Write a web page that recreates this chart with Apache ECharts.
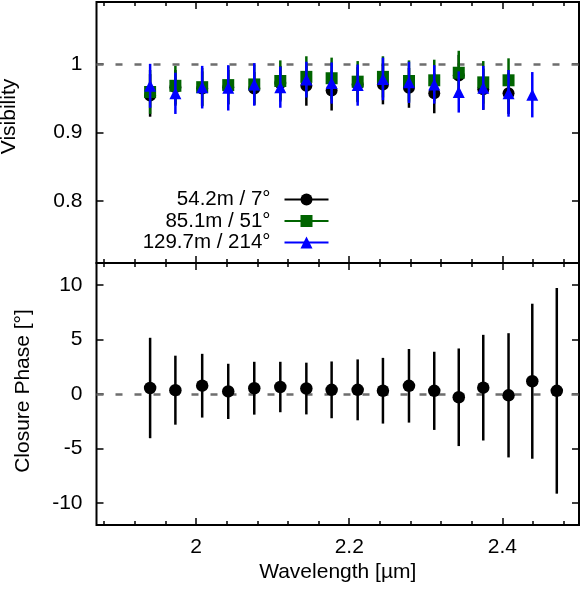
<!DOCTYPE html>
<html>
<head>
<meta charset="utf-8">
<title>Visibility / Closure Phase</title>
<script src="https://cdn.jsdelivr.net/npm/echarts@6.0.0/dist/echarts.min.js"></script>
<style>
html, body { margin: 0; padding: 0; background: #fff; }
#chart { width: 581px; height: 593px; }
</style>
</head>
<body>
<div id="chart"></div>
<script>
// wavelength bins [um]
var wavelength = [1.940, 1.973, 2.008, 2.042, 2.076, 2.110, 2.144, 2.177, 2.211, 2.244, 2.278, 2.311, 2.343, 2.375, 2.408, 2.439, 2.471];

// visibilities per baseline
var baselineNames = ['54.2m / 7°', '85.1m / 51°', '129.7m / 214°'];
var vis1 = [0.954, 0.966, 0.964, 0.966, 0.964, 0.972, 0.968, 0.961, 0.970, 0.970, 0.965, 0.957, 0.983, 0.963, 0.957];
var vis1Err = [0.031, 0.025, 0.025, 0.025, 0.024, 0.025, 0.029, 0.029, 0.025, 0.029, 0.029, 0.029, 0.030, 0.030, 0.030];
var vis2 = [0.959, 0.968, 0.966, 0.969, 0.970, 0.975, 0.981, 0.979, 0.974, 0.981, 0.975, 0.976, 0.987, 0.973, 0.976];
var vis2Err = [0.032, 0.029, 0.028, 0.028, 0.028, 0.030, 0.030, 0.030, 0.030, 0.030, 0.030, 0.030, 0.032, 0.031, 0.032];
var vis3 = [0.968, 0.957, 0.966, 0.965, 0.970, 0.966, 0.977, 0.972, 0.969, 0.978, 0.973, 0.970, 0.959, 0.965, 0.957, 0.955];
var vis3Err = [0.032, 0.030, 0.031, 0.033, 0.031, 0.030, 0.026, 0.030, 0.030, 0.031, 0.030, 0.028, 0.030, 0.032, 0.034, 0.033];

// closure phase [deg]
var cp = [0.55, 0.35, 0.76, 0.24, 0.53, 0.64, 0.50, 0.38, 0.38, 0.30, 0.75, 0.29, -0.30, 0.58, -0.12, 1.17, 0.29];
var cpErr = [4.6, 3.16, 2.92, 2.53, 2.42, 2.31, 2.37, 2.6, 2.79, 3.01, 3.37, 3.58, 4.47, 4.84, 5.69, 7.1, 9.42];

// ticks
var xMajorTicks = [2, 2.2, 2.4];
var xMinorTicks = [1.88, 1.92, 1.96, 2.04, 2.08, 2.12, 2.16, 2.24, 2.28, 2.32, 2.36, 2.44, 2.48];
var visTicks = [0.8, 0.9, 1];
var cpTicks = [-10, -5, 0, 5, 10];

var xMin = 1.87, xMax = 2.5;
var FONT = 'Liberation Sans';
var FS = 21;

var chart = echarts.init(document.getElementById('chart'));
init();

function init() {
    chart.setOption(buildOption());
}

// points as [x, y]
function points(vals) {
    return vals.map(function (v, i) { return [wavelength[i], v]; });
}

// error bars as [x, lo, hi]
function bars(vals, errs) {
    return vals.map(function (v, i) { return [wavelength[i], v - errs[i], v + errs[i]]; });
}

function renderErr(params, api) {
    var p1 = api.coord([api.value(0), api.value(1)]);
    var p2 = api.coord([api.value(0), api.value(2)]);
    return {
        type: 'line',
        shape: { x1: p1[0], y1: p1[1], x2: p2[0], y2: p2[1] },
        style: { stroke: api.visual('color'), lineWidth: 2.5 }
    };
}

function dashedRef(value) {
    return {
        silent: true,
        symbol: ['none', 'none'],
        z: 1,
        label: { show: false },
        lineStyle: { type: [7, 12], color: '#6e6e6e', width: 2.5 },
        data: [{ yAxis: value }]
    };
}

function xAxisCfg(gridIndex, position, ticks, len, showLabel) {
    return {
        type: 'value', gridIndex: gridIndex, position: position, min: xMin, max: xMax,
        axisLine: { show: false, onZero: false },
        axisTick: { show: true, inside: true, length: len, customValues: ticks, lineStyle: { color: '#000', width: 1.5 } },
        axisLabel: { show: showLabel, customValues: xMajorTicks, fontSize: FS, color: '#000', margin: 12, fontFamily: FONT },
        splitLine: { show: false }
    };
}

function yAxisCfg(gridIndex, position, min, max, ticks, showLabel) {
    return {
        type: 'value', gridIndex: gridIndex, position: position, min: min, max: max,
        axisLine: { show: false, onZero: false },
        axisTick: { show: true, inside: true, length: 7, customValues: ticks, lineStyle: { color: '#000', width: 1.5 } },
        axisLabel: { show: showLabel, customValues: ticks, fontSize: FS, color: '#000', margin: 14, fontFamily: FONT },
        splitLine: { show: false }
    };
}

function markerSeries(name, vals, color, symbol, z) {
    return {
        name: name, type: 'line', xAxisIndex: 0, yAxisIndex: 0, z: z,
        data: points(vals), color: color,
        symbol: symbol, symbolSize: 12, showSymbol: true, showAllSymbol: true,
        lineStyle: { width: 0, opacity: 0 },
        itemStyle: { color: color, borderWidth: 0, opacity: 1 },
        silent: true
    };
}

function errSeries(name, vals, errs, color, z, xi, yi) {
    return {
        name: name, type: 'custom', xAxisIndex: xi, yAxisIndex: yi, z: z,
        data: bars(vals, errs), color: color,
        encode: { x: 0, y: [1, 2] },
        renderItem: renderErr, silent: true
    };
}

function buildOption() {
    var s1Err = errSeries('err1', vis1, vis1Err, '#000000', 2, 0, 0);
    s1Err.markLine = dashedRef(1);
    var cpErrSeries = errSeries('cpErr', cp, cpErr, '#000000', 2, 4, 2);
    cpErrSeries.markLine = dashedRef(0);

    var yVis = yAxisCfg(0, 'left', 0.71, 1.09, visTicks, true);
    yVis.name = 'Visibility';
    yVis.nameLocation = 'middle';
    yVis.nameGap = 77;
    yVis.nameTextStyle = { fontSize: FS, color: '#000', fontFamily: FONT, padding: [0, 0, 0, 32] };

    var yCp = yAxisCfg(1, 'left', -12, 12, cpTicks, true);
    yCp.name = 'Closure Phase [°]';
    yCp.nameLocation = 'middle';
    yCp.nameGap = 63;
    yCp.nameTextStyle = { fontSize: FS, color: '#000', fontFamily: FONT, padding: [0, 0, 0, 6] };

    var xWave = xAxisCfg(1, 'bottom', xMajorTicks, 7, true);
    xWave.name = 'Wavelength [µm]';
    xWave.nameLocation = 'middle';
    xWave.nameGap = 37;
    xWave.nameTextStyle = { fontSize: FS, color: '#000', fontFamily: FONT };

    return {
        animation: false,
        backgroundColor: '#fff',
        textStyle: { fontFamily: FONT },
        grid: [
            { left: 96.5, right: 2, top: 2, height: 261, show: true, borderColor: '#000', borderWidth: 2, outerBoundsMode: 'none', containLabel: false },
            { left: 96.5, right: 2, top: 263, height: 262, show: true, borderColor: '#000', borderWidth: 2, outerBoundsMode: 'none', containLabel: false }
        ],
        xAxis: [
            xAxisCfg(0, 'bottom', xMajorTicks, 7, false),
            xAxisCfg(0, 'top', xMajorTicks, 7, false),
            xAxisCfg(0, 'bottom', xMinorTicks, 4, false),
            xAxisCfg(0, 'top', xMinorTicks, 4, false),
            xWave,
            xAxisCfg(1, 'top', xMajorTicks, 7, false),
            xAxisCfg(1, 'bottom', xMinorTicks, 4, false),
            xAxisCfg(1, 'top', xMinorTicks, 4, false)
        ],
        yAxis: [
            yVis,
            yAxisCfg(0, 'right', 0.71, 1.09, visTicks, false),
            yCp,
            yAxisCfg(1, 'right', -12, 12, cpTicks, false)
        ],
        legend: {
            orient: 'vertical', align: 'right', right: 251.5, top: 189,
            itemWidth: 44, itemHeight: 15, itemGap: 0.5, padding: 0,
            selectedMode: false,
            data: baselineNames,
            textStyle: { fontSize: 20.5, color: '#000', fontFamily: FONT, padding: [0, 9, 0, 0], lineHeight: 20 },
            lineStyle: { width: 2, opacity: 1 },
            itemStyle: { opacity: 1 }
        },
        series: [
            s1Err,
            markerSeries(baselineNames[0], vis1, '#000000', 'circle', 3),
            errSeries('err2', vis2, vis2Err, '#006400', 4, 0, 0),
            markerSeries(baselineNames[1], vis2, '#006400', 'rect', 5),
            errSeries('err3', vis3, vis3Err, '#0000ff', 6, 0, 0),
            markerSeries(baselineNames[2], vis3, '#0000ff', 'triangle', 7),
            cpErrSeries,
            {
                name: 'cp', type: 'scatter', xAxisIndex: 4, yAxisIndex: 2, z: 3,
                data: points(cp), symbol: 'circle', symbolSize: 12.5,
                itemStyle: { color: '#000000', opacity: 1 }, silent: true
            }
        ]
    };
}
</script>
</body>
</html>
